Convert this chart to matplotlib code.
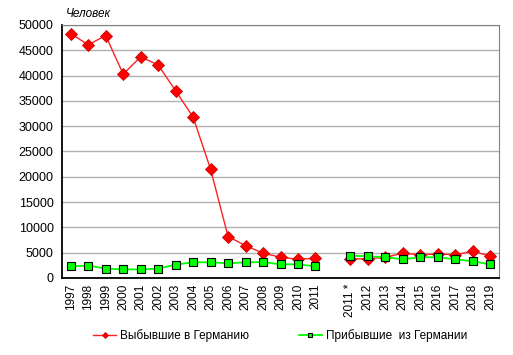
import numpy as np
from matplotlib import pyplot as plt

plt.rcParams['font.family'] = ['Liberation Sans', 'DejaVu Sans']

years = ["1997", "1998", "1999", "2000", "2001", "2002", "2003", "2004",
         "2005", "2006", "2007", "2008", "2009", "2010", "2011", "",
         "2011 *", "2012", "2013", "2014", "2015", "2016", "2017", "2018", "2019"]
left_de = [48300, 46100, 47900, 40300, 43700, 42100, 37000, 31800,
           21500, 8200, 6400, 4900, 4100, 3700, 3900, np.nan,
           3750, 3800, 4100, 4900, 4600, 4750, 4600, 5300, 4300]
came_de = [2300, 2450, 1850, 1700, 1700, 1850, 2650, 3100,
           3100, 2900, 3100, 3150, 2700, 2700, 2300, np.nan,
           4400, 4300, 4100, 3700, 4100, 4100, 3700, 3300, 2700]

x = np.arange(len(years))

fig = plt.figure(figsize=(5.13, 3.55), dpi=100)
ax = fig.add_axes([62 / 513, 1 - 278 / 355, 437 / 513, 253 / 355])

ax.plot(x, left_de, color="#ff2020", lw=1, marker="D", ms=6,
        mfc="#ff0000", mec="#cc0000", mew=0.6, label="Выбывшие в Германию", zorder=3)
ax.plot(x, came_de, color="#00ff00", lw=1.3, marker="s", ms=6,
        mfc="#00ff00", mec="#000000", mew=0.8, label="Прибывшие  из Германии", zorder=3)

ax.set_xlim(-0.5, len(years) - 0.5)
ax.set_ylim(0, 50000)
ax.set_yticks(range(0, 50001, 5000))
ax.set_xticks(x)
ax.set_xticklabels(years, rotation=90, fontsize=8.5)
ax.tick_params(axis="y", labelsize=9, length=0, pad=6)
ax.tick_params(axis="x", length=0, pad=4)
ax.yaxis.grid(True, color="#b0b0b0", lw=1)
ax.set_axisbelow(True)
for side in ["top", "right"]:
    ax.spines[side].set_color("#808080")
for side in ["left", "bottom"]:
    ax.spines[side].set_color("black")
    ax.spines[side].set_linewidth(1.3)

fig.text(66 / 513, 1 - 14 / 355, "Человек", fontsize=8.5, style="italic", va="center")

leg = fig.legend(loc="center", bbox_to_anchor=(280 / 513, 1 - 336 / 355), ncol=2,
                 frameon=False, fontsize=8.5, markerscale=0.5,
                 columnspacing=4.2, handlelength=2.0, handletextpad=0.3)

fig.savefig("out.png", dpi=100)
